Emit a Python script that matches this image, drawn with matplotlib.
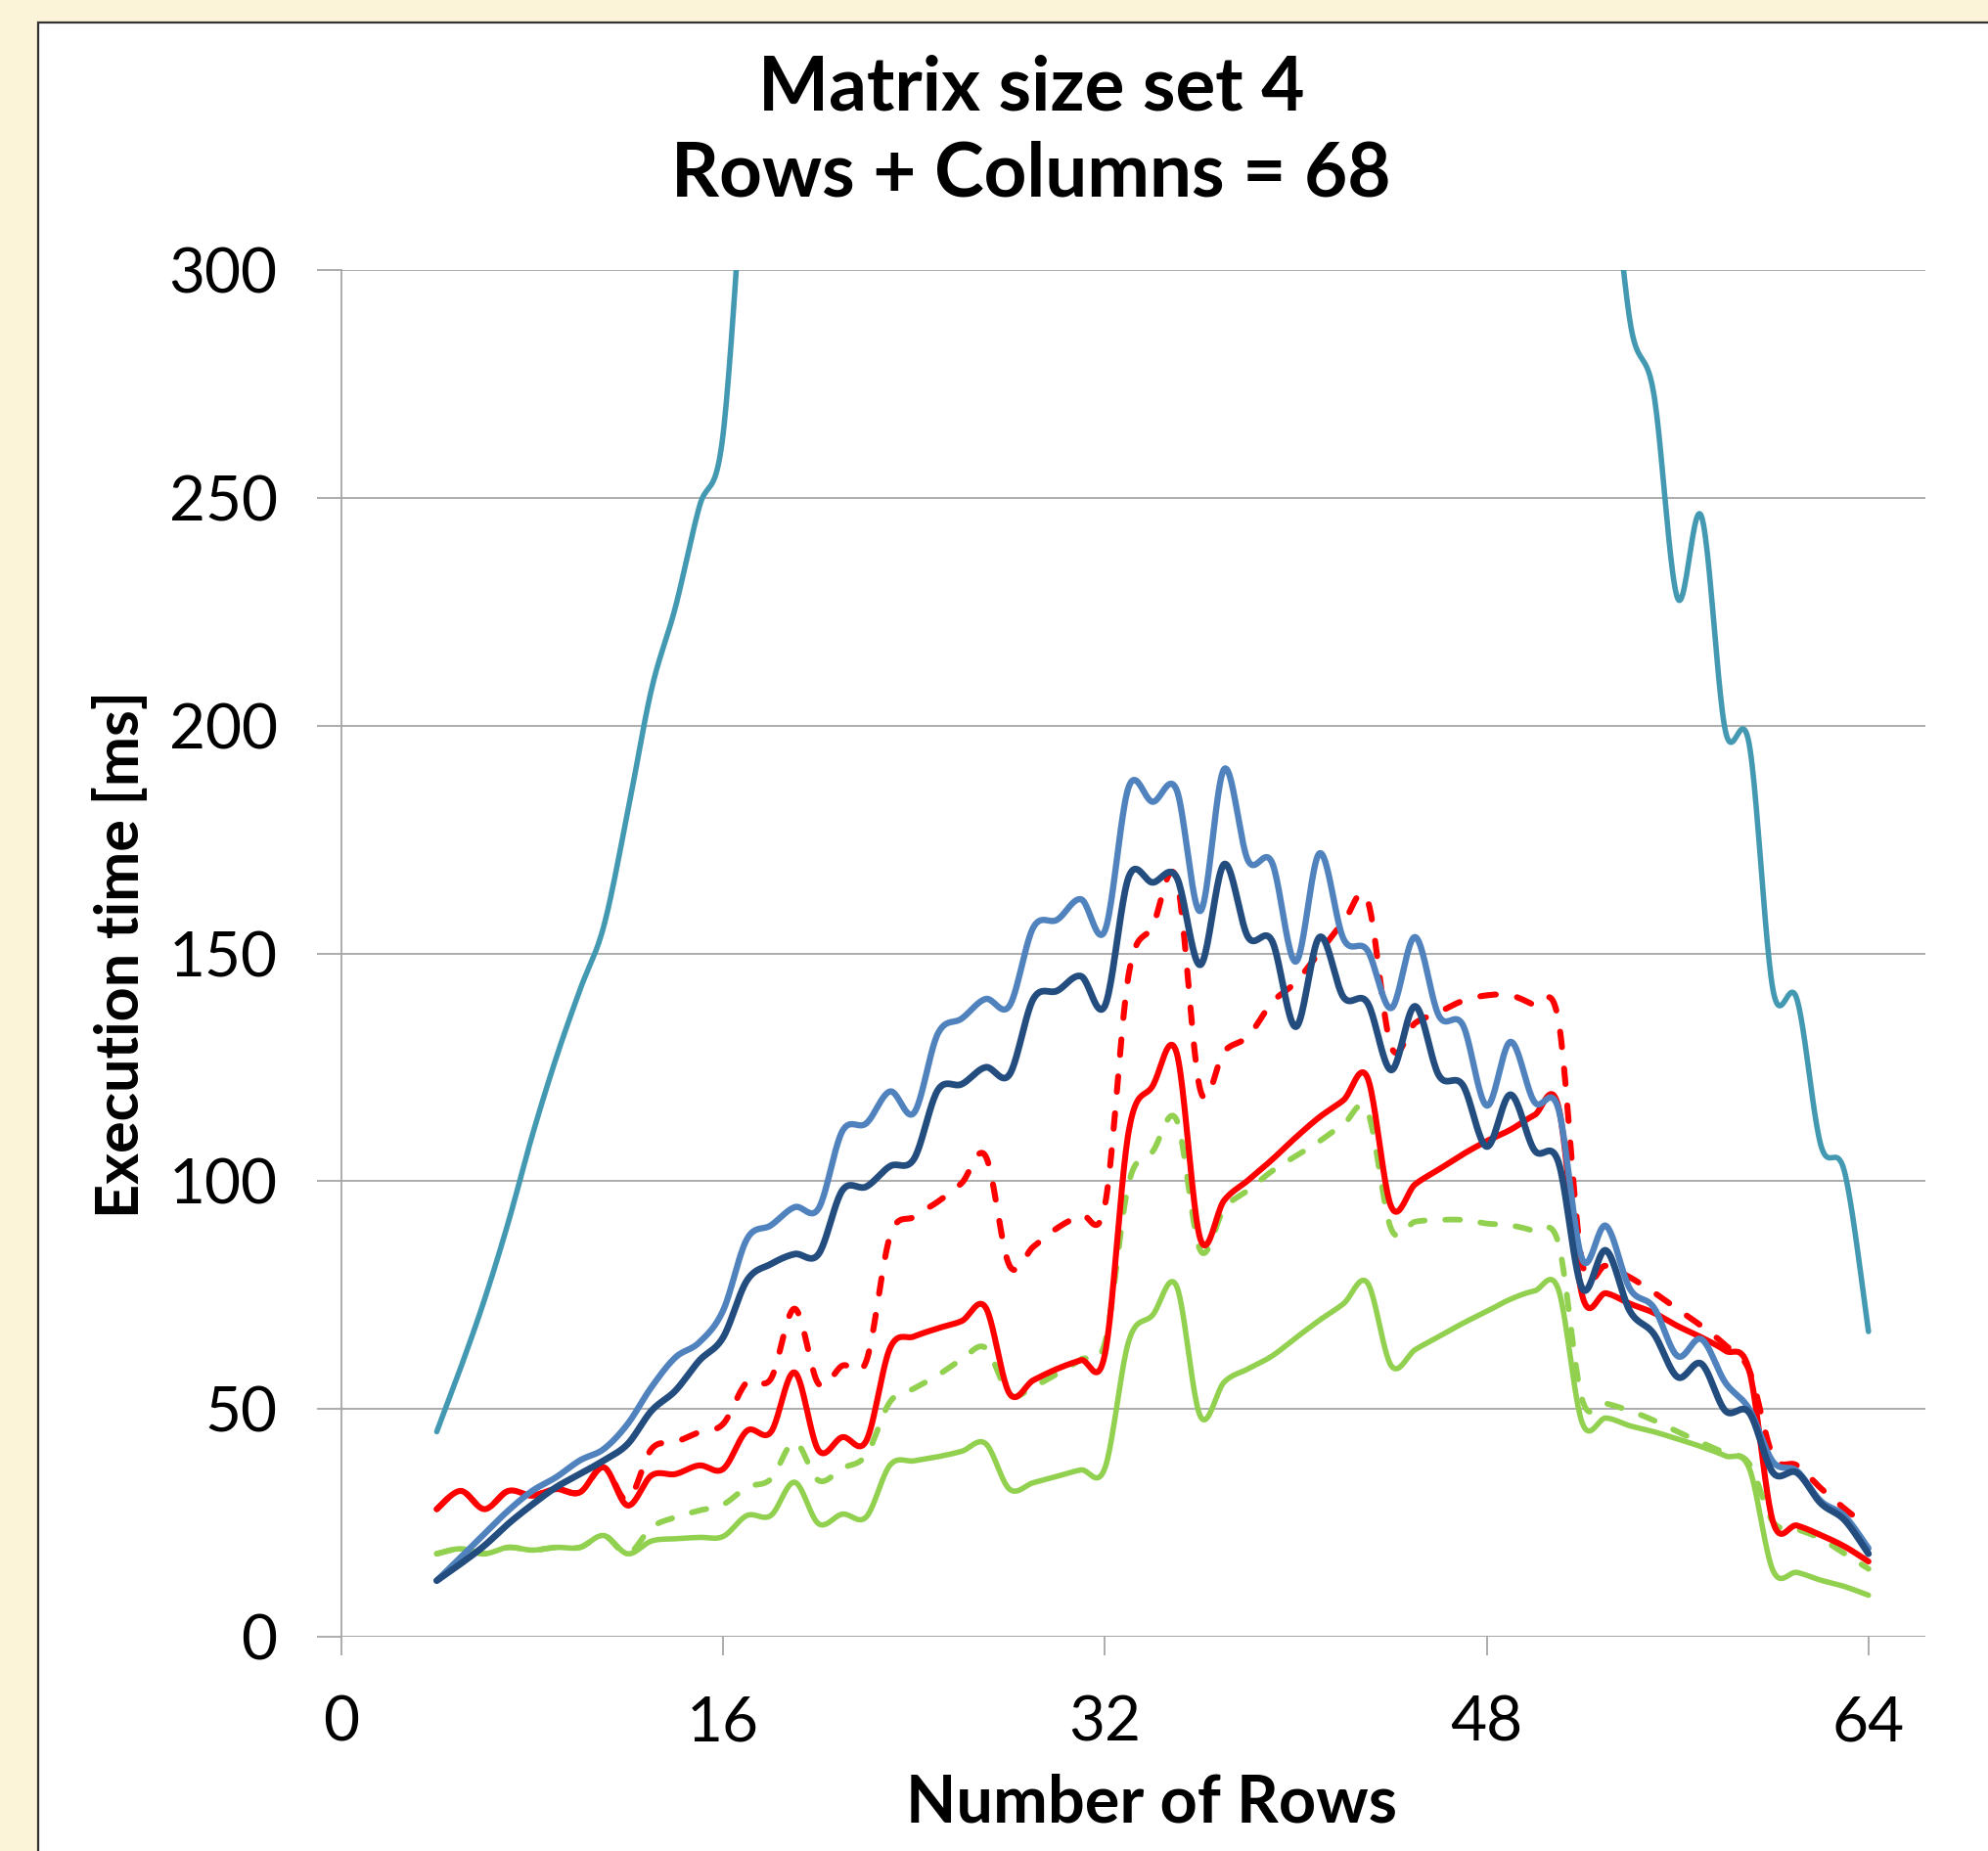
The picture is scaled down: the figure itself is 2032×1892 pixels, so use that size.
import numpy as np
import matplotlib
matplotlib.use("Agg")
import matplotlib.pyplot as plt
from matplotlib.patches import Rectangle

plt.rcParams['font.family'] = ['Lato', 'DejaVu Sans']

#################################################################
# data (execution time in ms, one value per row count 4..64)
#################################################################
rows = list(range(4, 65))

# teal series leaves the chart between 17 and 53 rows
teal = [45, 59, 74, 91, 110, 127, 142, 156, 181, 208, 226, 248, 264, 336] + [None] * 35 + \
       [340, 289, 273, 228, 246, 199, 196, 142, 140, 108, 102, 67]

light_blue = [12.3, 17.4, 22.6, 27.7, 32, 35, 38.7, 41.2, 46.7, 54.8, 61.3, 64.6, 71.6, 87.3, 90.3, 94.3, 94,
              111, 112.7, 119.7, 115, 132.4, 135.7, 140, 138.5, 155.7, 157.4, 161.9, 155, 186.6, 183.3, 186,
              159.3, 190.5, 170.4, 170, 148.2, 172, 153.2, 150.7, 138, 153.6, 136.3, 134.3, 116.6, 130.6,
              117.4, 116, 82.9, 90.2, 76.4, 72.3, 61.6, 65.3, 55.8, 50, 38.4, 36.4, 29.8, 26.5, 19.4]

dark_blue = [12.3, 16, 20, 24.8, 29, 32.8, 35.7, 38.7, 42.3, 49.6, 54, 60.6, 65.7, 78.2, 81.8, 84, 84,
             98, 98.8, 103.3, 104.9, 120, 121.3, 125, 123.4, 140, 141.8, 145, 138.5, 166.8, 165.6, 166.8,
             147.5, 169.6, 153.6, 152.8, 133.9, 153.6, 140.4, 139.2, 124.4, 138.4, 123.2, 121.1, 107.6, 119,
             106.8, 104.3, 76.5, 84.8, 71.5, 66.5, 57, 59.9, 49.6, 49.2, 36, 36, 29.3, 25.6, 18.2]

red_solid = [28, 32, 28, 32, 31, 32.4, 31.7, 37.2, 28.8, 35.4, 35.7, 37.6, 36.8, 45.2, 44.9, 58, 40.9,
             43.8, 43, 63.4, 65.9, 67.7, 69.3, 72.3, 53.4, 56.3, 58.8, 60.7, 62, 111, 120.9, 128.3,
             87.3, 95.8, 100.2, 104.7, 109.6, 114.1, 117.8, 122.8, 94.4, 99.3, 102.6, 105.9, 108.8, 111.3,
             114.5, 116.5, 75, 75.4, 73.1, 71.1, 68.2, 65.7, 62.8, 58.5, 25.2, 24.4, 22.3, 19.8, 16.5]

red_dashed = [28, 32, 28, 32, 31, 32.4, 31.7, 37.2, 30, 41.2, 42.7, 44.9, 46.7, 55.9, 56.6, 72, 55.5,
              59.5, 60.5, 88, 92.2, 95.5, 99.6, 105.5, 81.5, 85.6, 89.7, 92.6, 94.7, 145.5, 156, 166.4,
              120, 128.5, 131.8, 139.2, 143.7, 150.3, 156.9, 161.8, 129.5, 134.7, 137.1, 139.6, 140.8, 140.8,
              138.6, 135.5, 82.2, 81.4, 78.9, 75.6, 71.9, 68.2, 64, 58.5, 39.7, 37.6, 32.6, 28.1, 24]

green_solid = [18.2, 19.3, 18.2, 19.6, 19, 19.6, 19.6, 22.2, 18.2, 21, 21.5, 21.8, 22, 26.6, 26.6, 33.9, 24.8,
               26.9, 26.3, 37.7, 38.6, 39.5, 40.7, 42.4, 32.4, 33.8, 35.2, 36.6, 37, 64.9, 70.6, 77,
               48.4, 55.9, 58.8, 61.6, 65.6, 69.5, 73.1, 77.7, 59.5, 63, 65.9, 68.8, 71.4, 74.1,
               75.9, 76.3, 47, 48, 46.3, 45, 43.4, 41.7, 39.7, 37, 14.5, 14.1, 12.4, 11, 9.1]

green_dashed = [18.2, 19.3, 18.2, 19.6, 19, 19.6, 19.6, 22.2, 18.2, 24, 26.2, 27.7, 29, 32.8, 34.6, 42.7, 34.3,
                37, 39.9, 51.6, 54.5, 57.4, 60.9, 63.4, 53.1, 54.9, 57.7, 60.9, 64.5, 99.6, 106.5, 113.5,
                84.8, 94, 98, 102.2, 105.5, 108.8, 112.5, 115.4, 89.5, 91.1, 91.5, 91.5, 90.7, 90.3,
                89, 86.5, 52.1, 51.2, 49.6, 47.5, 45, 42.6, 40.3, 38, 25.2, 23.6, 21.5, 18.2, 14.9]

x_ticks = [0, 16, 32, 48, 64]
y_ticks = [0, 50, 100, 150, 200, 250, 300]

#################################################################
# helpers
#################################################################

def smoothLine(xs, ys, nSeg=24):
	"""Excel-like smoothed line: cubic Bezier through the points, split at gaps (None)"""
	outX, outY = [], []
	segs, cur = [], []
	for x, y in zip(xs, ys):
		if y is None:
			if cur:
				segs.append(cur)
			cur = []
		else:
			cur.append((x, y))
	if cur:
		segs.append(cur)
	for seg in segs:
		p = np.array(seg, dtype=float)
		n = len(p)
		for i in range(n - 1):
			p0 = p[i - 1] if i > 0 else p[i]
			p1, p2 = p[i], p[i + 1]
			p3 = p[i + 2] if i + 2 < n else p[i + 1]
			c1 = p1 + (p2 - p0) / 6.
			c2 = p2 - (p3 - p1) / 6.
			t = np.linspace(0, 1, nSeg, endpoint=(i == n - 2))[:, None]
			b = (1 - t)**3 * p1 + 3 * (1 - t)**2 * t * c1 + 3 * (1 - t) * t**2 * c2 + t**3 * p2
			outX.extend(b[:, 0]); outY.extend(b[:, 1])
		outX.append(np.nan); outY.append(np.nan)
	return np.array(outX), np.array(outY)

#################################################################
# figure
#################################################################
fig = plt.figure(figsize=(20.33, 18.92), dpi=100)
fig.patch.set_facecolor('#FCF4D8')
fig.patches.append(Rectangle((0.0191, -0.2), 1.3, 1.1877, transform=fig.transFigure,
                             facecolor='white', edgecolor='#333333', linewidth=1.6, zorder=-5))

ax = fig.add_axes([0.1716, 0.1158, 0.7966, 0.7382])
ax.set_facecolor('none')

series = [
	(teal, '#4399B1', '-', 4.0),
	(green_dashed, '#92D050', '--', 4.2),
	(green_solid, '#92D050', '-', 4.0),
	(red_dashed, '#FF0000', '--', 4.4),
	(red_solid, '#FF0000', '-', 4.4),
	(light_blue, '#5082BE', '-', 4.6),
	(dark_blue, '#234C7F', '-', 4.9),
]
for vals, col, ls, lw in series:
	sx, sy = smoothLine(rows, vals)
	if ls == '--':
		ax.plot(sx, sy, color=col, linewidth=lw, dashes=(2.6, 3.6), dash_capstyle='round',
		        dash_joinstyle='round')
	else:
		ax.plot(sx, sy, color=col, linewidth=lw, solid_capstyle='round', solid_joinstyle='round')

ax.set_xlim(0, 66.4)
ax.set_ylim(0, 300)
ax.set_xticks(x_ticks)
ax.set_yticks(y_ticks)
ax.yaxis.grid(True, color='#A6A6A6', linewidth=1.3)
ax.set_axisbelow(True)
for s in ['top', 'right', 'bottom']:
	ax.spines[s].set_visible(False)
ax.spines['left'].set_color('#A6A6A6')
ax.spines['left'].set_linewidth(1.3)
ax.tick_params(axis='y', length=18, width=1.3, color='#A6A6A6', pad=29, labelsize=46)
ax.tick_params(axis='x', length=14, width=1.3, color='#A6A6A6', pad=29, labelsize=46)
ax.axhline(0, color='#A6A6A6', linewidth=1.3, zorder=0.5)

fig.text(0.5185, 0.952, 'Matrix size set 4', ha='center', va='center', fontsize=55, fontweight='bold')
fig.text(0.5185, 0.9054, 'Rows + Columns = 68', ha='center', va='center', fontsize=55, fontweight='bold')
fig.text(0.579, 0.0254, 'Number of Rows', ha='center', va='center', fontsize=48, fontweight='bold')
fig.text(0.0606, 0.4846, 'Execution time [ms]', ha='center', va='center', rotation=90, fontsize=44, fontweight='bold')

plt.savefig('out.png', dpi=100, facecolor=fig.get_facecolor())
